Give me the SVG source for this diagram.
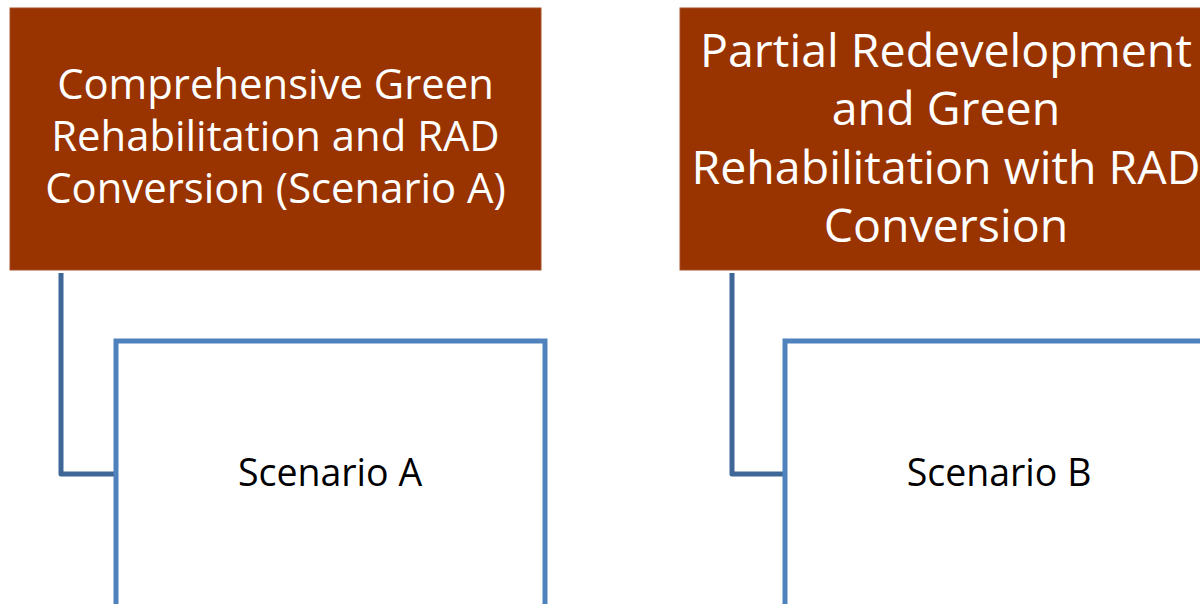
<svg xmlns="http://www.w3.org/2000/svg" width="1200" height="604" viewBox="0 0 1200 604">
  <style>
    .head { fill: #993300; stroke: #A5502A; stroke-width: 1; }
    .headtxt { fill: #FFFFFF; font-family: "Open Sans", "Liberation Sans", sans-serif; text-anchor: middle; }
    .sub { fill: #FFFFFF; stroke: #4F81BD; stroke-width: 5; }
    .subtxt { fill: #000000; font-family: "Open Sans", "Liberation Sans", sans-serif; font-size: 37.5px; text-anchor: middle; }
    .conn { fill: none; stroke: #3E6697; stroke-width: 5; stroke-linejoin: round; }
  </style>
  <rect x="0" y="0" width="1200" height="604" fill="#FFFFFF"/>
  <g id="connectors">
    <path class="conn" d="M61,273 V474 H116"/>
    <path class="conn" d="M732,273 V474 H785"/>
  </g>
  <g id="nodeA">
    <rect class="head" x="10" y="8" width="531" height="262"/>
    <text class="headtxt" font-size="41.8" x="275.5" y="99">Comprehensive Green</text>
    <text class="headtxt" font-size="41.8" x="275.5" y="151">Rehabilitation and RAD</text>
    <text class="headtxt" font-size="41.8" x="275.5" y="203">Conversion (Scenario A)</text>
  </g>
  <g id="nodeB">
    <rect class="head" x="680" y="8" width="532" height="262"/>
    <text class="headtxt" font-size="46.5" x="946" y="67">Partial Redevelopment</text>
    <text class="headtxt" font-size="46.5" x="946" y="125">and Green</text>
    <text class="headtxt" font-size="46.5" x="946" y="184">Rehabilitation with RAD</text>
    <text class="headtxt" font-size="46.5" x="946" y="242">Conversion</text>
  </g>
  <g id="scenarioA">
    <rect class="sub" x="116" y="341" width="429" height="280"/>
    <text class="subtxt" x="330" y="486">Scenario A</text>
  </g>
  <g id="scenarioB">
    <rect class="sub" x="785" y="341" width="429" height="280"/>
    <text class="subtxt" x="999" y="486">Scenario B</text>
  </g>
</svg>
